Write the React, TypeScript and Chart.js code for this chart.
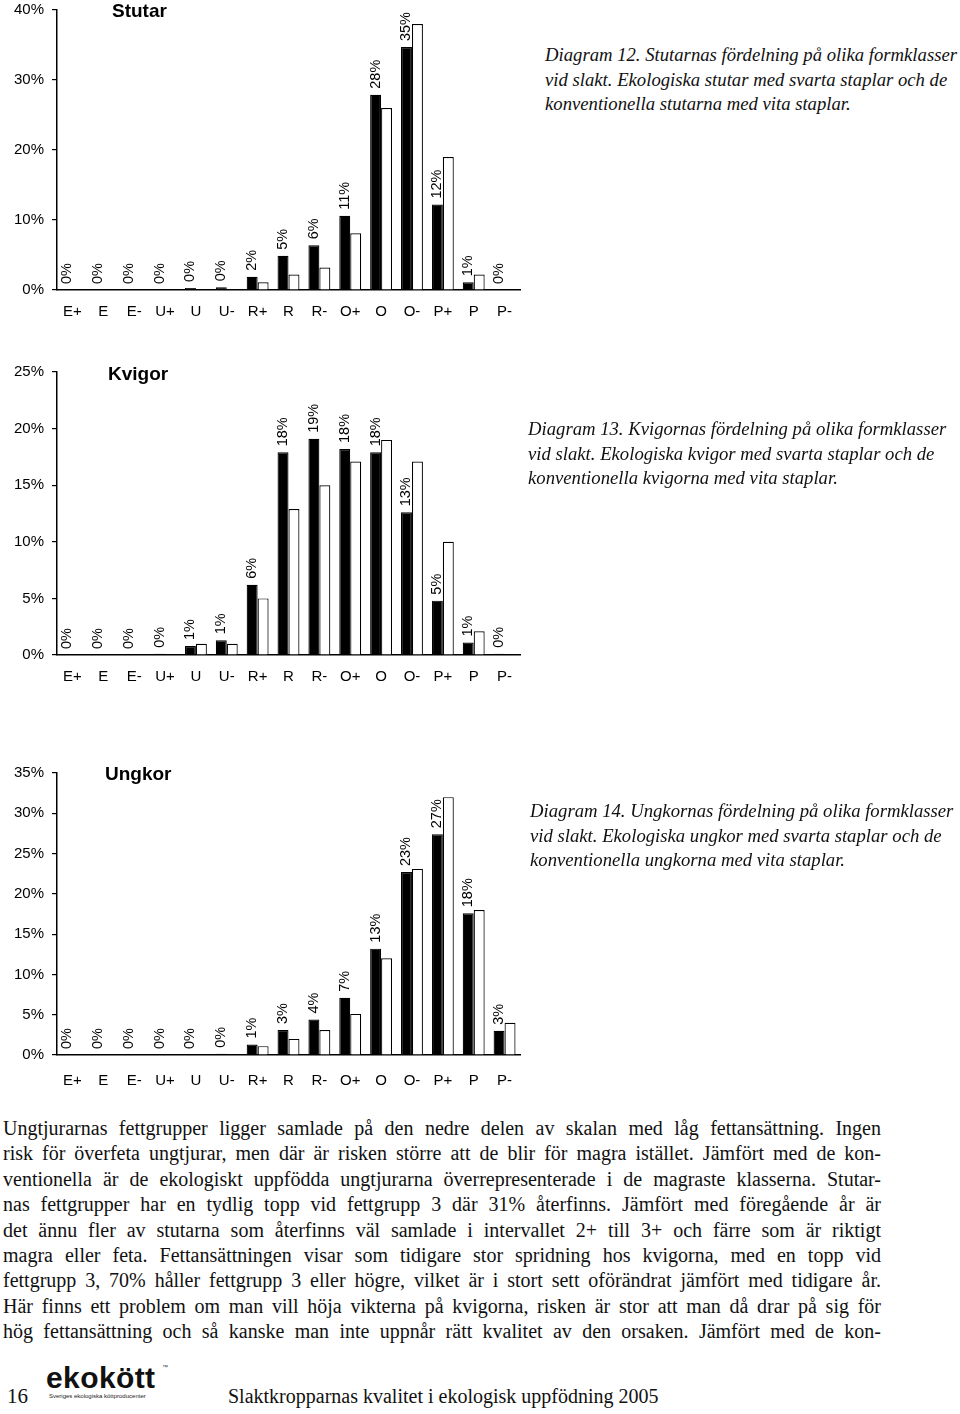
import React, { useEffect, useLayoutEffect, useRef } from 'react';
import { Chart, registerables } from 'chart.js';

Chart.register(...registerables);

const categories = ['E+', 'E', 'E-', 'U+', 'U', 'U-', 'R+', 'R', 'R-', 'O+', 'O', 'O-', 'P+', 'P', 'P-'];

// Stutar (steers): ecological (black) and conventional (white), %
const stutarEko = [0, 0, 0, 0, 0.3, 0.4, 1.9, 4.9, 6.4, 10.6, 27.9, 34.7, 12.2, 1.1, 0];
const stutarKonv = [0, 0, 0, 0, 0, 0, 1.1, 2.2, 3.2, 8.1, 26.0, 38.0, 19.0, 2.2, 0];

// Kvigor (heifers)
const kvigorEko = [0, 0, 0, 0.1, 0.8, 1.3, 6.2, 17.9, 19.1, 18.2, 17.9, 12.6, 4.8, 1.1, 0.1];
const kvigorKonv = [0, 0, 0, 0, 1.0, 1.0, 5.0, 12.9, 15.0, 17.1, 19.0, 17.1, 10.0, 2.1, 0];

// Ungkor (young cows)
const ungkorEko = [0, 0, 0, 0, 0, 0.15, 1.3, 3.1, 4.4, 7.1, 13.2, 22.7, 27.4, 17.6, 3.0];
const ungkorKonv = [0, 0, 0, 0, 0, 0, 1.1, 2.0, 3.1, 5.1, 12.0, 23.1, 32.0, 18.0, 4.0];

const captions12 = [
  'Diagram 12. Stutarnas fördelning på olika formklasser',
  'vid slakt. Ekologiska stutar med svarta staplar och de',
  'konventionella stutarna med vita staplar.',
];
const captions13 = [
  'Diagram 13. Kvigornas fördelning på olika formklasser',
  'vid slakt. Ekologiska kvigor med svarta staplar och de',
  'konventionella kvigorna med vita staplar.',
];
const captions14 = [
  'Diagram 14. Ungkornas fördelning på olika formklasser',
  'vid slakt. Ekologiska ungkor med svarta staplar och de',
  'konventionella ungkorna med vita staplar.',
];

const bodyLines = [
  'Ungtjurarnas fettgrupper ligger samlade på den nedre delen av skalan med låg fettansättning. Ingen',
  'risk för överfeta ungtjurar, men där är risken större att de blir för magra istället. Jämfört med de kon-',
  'ventionella är de ekologiskt uppfödda ungtjurarna överrepresenterade i de magraste klasserna. Stutar-',
  'nas fettgrupper har en tydlig topp vid fettgrupp 3 där 31% återfinns. Jämfört med föregående år är',
  'det ännu fler av stutarna som återfinns väl samlade i intervallet 2+ till 3+ och färre som är riktigt',
  'magra eller feta. Fettansättningen visar som tidigare stor spridning hos kvigorna, med en topp vid',
  'fettgrupp 3, 70% håller fettgrupp 3 eller högre, vilket är i stort sett oförändrat jämfört med tidigare år.',
  'Här finns ett problem om man vill höja vikterna på kvigorna, risken är stor att man då drar på sig för',
  'hög fettansättning och så kanske man inte uppnår rätt kvalitet av den orsaken. Jämfört med de kon-',
];

const SANS = '"Liberation Sans", Arial, Helvetica, sans-serif';
const SERIF = '"Liberation Serif", "Times New Roman", serif';

const labelPlugin = {
  id: 'verticalValueLabels',
  afterDatasetsDraw(chart: any) {
    const ctx = chart.ctx;
    const meta = chart.getDatasetMeta(0);
    const data = chart.data.datasets[0].data as number[];
    ctx.save();
    ctx.font = `14.5px ${SANS}`;
    ctx.fillStyle = '#000';
    ctx.textAlign = 'left';
    ctx.textBaseline = 'middle';
    meta.data.forEach((el: any, i: number) => {
      const { x, y } = el.getProps(['x', 'y'], true);
      ctx.save();
      ctx.translate(x, y - 6);
      ctx.rotate(-Math.PI / 2);
      ctx.fillText(Math.round(data[i]) + '%', 0, 0);
      ctx.restore();
    });
    ctx.restore();
  },
};

type BarProps = {
  eko: number[];
  konv: number[];
  max: number;
  step: number;
  top: number;
  height: number;
  labelPad: number;
};

function BarChart({ eko, konv, max, step, top, height, labelPad }: BarProps) {
  const ref = useRef<HTMLCanvasElement>(null);
  useEffect(() => {
    const chart = new Chart(ref.current as HTMLCanvasElement, {
      type: 'bar',
      data: {
        labels: categories,
        datasets: [
          {
            data: eko,
            backgroundColor: '#000',
            borderColor: '#000',
            borderWidth: 1.2,
            categoryPercentage: 0.71,
            barPercentage: 1,
          },
          {
            data: konv,
            backgroundColor: '#fff',
            borderColor: '#000',
            borderWidth: 1.2,
            categoryPercentage: 0.71,
            barPercentage: 1,
          },
        ],
      },
      options: {
        responsive: false,
        maintainAspectRatio: false,
        animation: false,
        layout: { padding: { top: 10, right: 20, left: 0, bottom: 0 } },
        plugins: { legend: { display: false }, tooltip: { enabled: false } },
        scales: {
          x: {
            grid: { display: false, drawTicks: false },
            border: { color: '#000', width: 1.5 },
            ticks: {
              color: '#000',
              font: { family: SANS, size: 15 },
              padding: labelPad,
              maxRotation: 0,
              autoSkip: false,
            },
            afterFit: (s: any) => {
              s.height = 30;
              s.paddingLeft = 0;
              s.paddingRight = 0;
            },
          },
          y: {
            min: 0,
            max,
            ticks: {
              stepSize: step,
              color: '#000',
              font: { family: SANS, size: 15 },
              padding: 8,
              callback: (v: any) => v + '%',
            },
            grid: { drawOnChartArea: false, color: '#000', tickLength: 5, lineWidth: 1.2 },
            border: { color: '#000', width: 1.5 },
            afterFit: (s: any) => {
              s.width = 57;
              s.paddingTop = 0;
              s.paddingBottom = 0;
            },
          },
        },
      } as any,
      plugins: [labelPlugin],
    });
    return () => chart.destroy();
  }, []);
  return (
    <canvas
      ref={ref}
      width={540}
      height={height}
      style={{ position: 'absolute', left: 0, top, width: 540, height }}
    />
  );
}

function JLine({ text, width, style }: { text: string; width: number; style: React.CSSProperties }) {
  const ref = useRef<HTMLSpanElement>(null);
  useLayoutEffect(() => {
    const el = ref.current;
    if (!el) return;
    el.style.wordSpacing = '0px';
    const natural = el.getBoundingClientRect().width;
    const spaces = (text.match(/ /g) || []).length;
    if (spaces > 0) el.style.wordSpacing = (width - natural) / spaces + 'px';
  }, [text, width]);
  return (
    <div style={{ whiteSpace: 'nowrap', ...style }}>
      <span ref={ref}>{text}</span>
    </div>
  );
}

function Caption({ lines, left, top }: { lines: string[]; left: number; top: number }) {
  return (
    <div
      style={{
        position: 'absolute',
        left,
        top,
        fontFamily: SERIF,
        fontStyle: 'italic',
        fontSize: 18.7,
        lineHeight: '24.5px',
        color: '#111',
        whiteSpace: 'nowrap',
      }}
    >
      {lines.map((l, i) => (
        <div key={i}>{l}</div>
      ))}
    </div>
  );
}

function Title({ text, top, left }: { text: string; top: number; left: number }) {
  return (
    <div
      style={{
        position: 'absolute',
        left,
        top,
        fontFamily: SANS,
        fontWeight: 'bold',
        fontSize: 19,
        lineHeight: '19px',
        color: '#000',
      }}
    >
      {text}
    </div>
  );
}

export default function App() {
  return (
    <div
      style={{
        position: 'absolute',
        left: 0,
        top: 0,
        width: 960,
        height: 1414,
        background: '#fff',
        overflow: 'hidden',
      }}
    >
      <BarChart eko={stutarEko} konv={stutarKonv} max={40} step={10} top={0} height={320} labelPad={13} />
      <BarChart eko={kvigorEko} konv={kvigorKonv} max={25} step={5} top={362} height={323} labelPad={13} />
      <BarChart eko={ungkorEko} konv={ungkorKonv} max={35} step={5} top={763} height={322} labelPad={17} />

      <Title text="Stutar" left={112} top={1} />
      <Title text="Kvigor" left={108} top={364} />
      <Title text="Ungkor" left={105} top={764} />

      <Caption lines={captions12} left={545} top={43} />
      <Caption lines={captions13} left={528} top={417} />
      <Caption lines={captions14} left={530} top={799} />

      <div
        style={{
          position: 'absolute',
          left: 3,
          top: 1116,
          width: 878,
          fontFamily: SERIF,
          fontSize: 20,
          lineHeight: '25.4px',
          color: '#111',
        }}
      >
        {bodyLines.map((l, i) => (
          <JLine key={i} text={l} width={878} style={{}} />
        ))}
      </div>

      <div
        style={{
          position: 'absolute',
          left: 7,
          top: 1384,
          fontFamily: SERIF,
          fontSize: 21,
          lineHeight: '24px',
          color: '#111',
        }}
      >
        16
      </div>
      <div
        style={{
          position: 'absolute',
          left: 46,
          top: 1363,
          fontFamily: SANS,
          fontWeight: 'bold',
          fontSize: 30,
          lineHeight: '30px',
          letterSpacing: 0.4,
          color: '#111',
        }}
      >
        ekokött
      </div>
      <div
        style={{
          position: 'absolute',
          left: 162,
          top: 1364,
          fontFamily: SANS,
          fontSize: 6,
          lineHeight: '6px',
          color: '#333',
        }}
      >
        ™
      </div>
      <div
        style={{
          position: 'absolute',
          left: 49,
          top: 1393,
          fontFamily: SANS,
          fontSize: 6,
          lineHeight: '7px',
          color: '#222',
          whiteSpace: 'nowrap',
        }}
      >
        Sveriges ekologiska köttproducenter
      </div>
      <div
        style={{
          position: 'absolute',
          left: 228,
          top: 1384,
          fontFamily: SERIF,
          fontSize: 20,
          lineHeight: '24px',
          color: '#111',
          whiteSpace: 'nowrap',
        }}
      >
        Slaktkropparnas kvalitet i ekologisk uppfödning 2005
      </div>
    </div>
  );
}
